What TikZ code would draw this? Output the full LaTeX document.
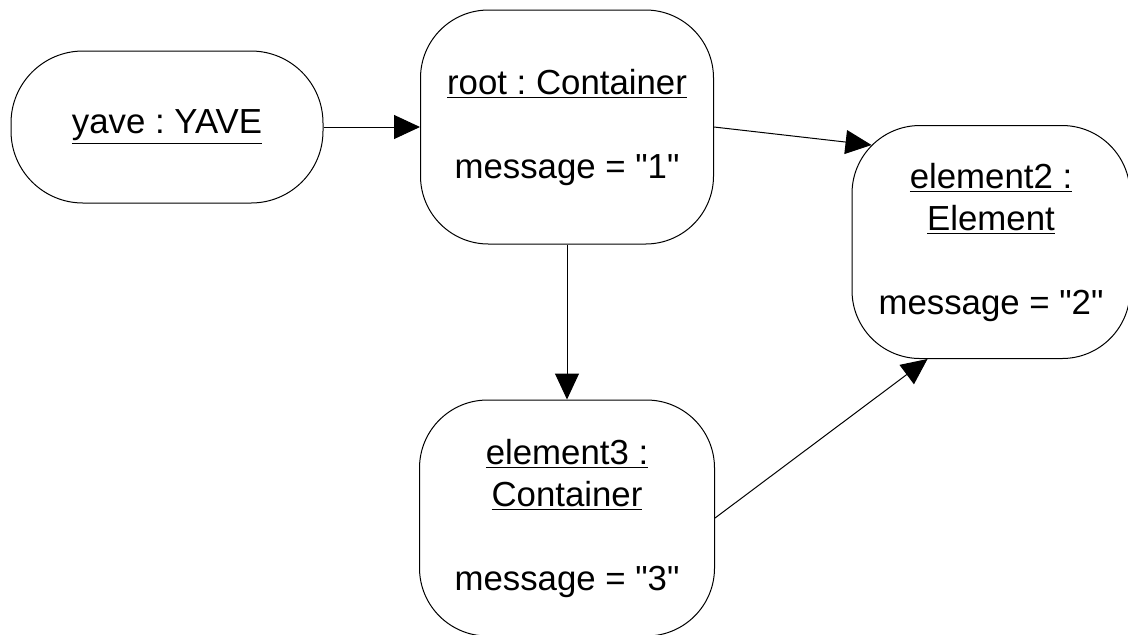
\documentclass[tikz,border=0pt]{standalone}
\usepackage{fontspec}
\setmainfont{Liberation Sans}[Ligatures=TeXOff]
\usetikzlibrary{arrows.meta, calc}
\frenchspacing

\begin{document}
\begin{tikzpicture}[->, >={Triangle[length=13pt,width=12pt]}, x=0.5pt, y=-0.5pt, line width=0.5pt]
\tikzstyle{object}=[draw, rectangle, rounded corners=34pt, align=center, inner sep=0pt, font=\fontsize{17.4}{21}\selectfont]
\useasboundingbox (0,0) rectangle (1128,634);
\node[object, rounded corners=36pt, minimum width=156pt, minimum height=76pt] (yave) at (167,127) {\underline{yave : YAVE}};
\node[object, minimum width=146.5pt, minimum height=117pt] (root) at (567,127) {\underline{root : Container}\\[21pt]message = "1"};
\node[object, minimum width=139pt, minimum height=116.5pt] (element2) at (991,242) {\underline{element2 :}\\\underline{Element}\\[21pt]message = "2"};
\node[object, minimum width=147.5pt, minimum height=118pt] (element3) at (567,518) {\underline{element3 :}\\\underline{Container}\\[21pt]message = "3"};
\coordinate (e2top) at ($(element2.north west)+(20,20)$);
\coordinate (e2low) at ($(element2.south west)+(76,0)$);
\path
(yave) edge (root)
(root.east) edge (e2top)
(root) edge (element3)
(element3.east) edge (e2low);
\end{tikzpicture}
\end{document}
